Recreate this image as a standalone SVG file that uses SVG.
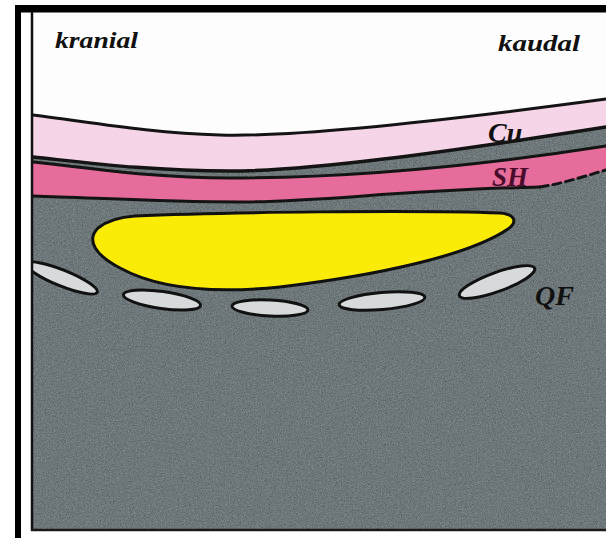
<svg xmlns="http://www.w3.org/2000/svg" width="606" height="538" viewBox="0 0 606 538">
  <style>
    .edge { fill: none; stroke: #141414; stroke-linecap: round; stroke-linejoin: round; }
    .lbl { font-weight: bold; font-style: italic; fill: #111; }
    .duct { fill: #d7dadb; stroke: #111; stroke-width: 3; }
  </style>
  <defs>
    <!-- fine print grain for the tissue area -->
    <filter id="grain" x="0" y="0" width="100%" height="100%" color-interpolation-filters="sRGB">
      <feTurbulence type="fractalNoise" baseFrequency="0.75" numOctaves="2" seed="7" result="noise"/>
      <feColorMatrix in="noise" type="matrix" values="0.33 0.33 0.33 0 0  0.33 0.33 0.33 0 0  0.33 0.33 0.33 0 0  0 0 0 0 1" result="mono"/>
      <feComposite in="mono" in2="SourceGraphic" operator="arithmetic" k1="0" k2="0.5" k3="1" k4="-0.25" result="mix"/>
      <feComposite in="mix" in2="SourceAlpha" operator="in"/>
    </filter>
    <clipPath id="panel">
      <rect x="33" y="12" width="573" height="518"/>
    </clipPath>
  </defs>

  <!-- page background -->
  <rect width="606" height="538" fill="#ffffff"/>

  <g id="section" clip-path="url(#panel)">
    <!-- white field above the skin -->
    <rect x="33" y="12" width="573" height="518" fill="#fdfdfd"/>
    <!-- deep tissue (grey) -->
    <path d="M33,157 C90,163 150,171 230,171 C310,171 440,153 606,127 L606,530 L33,530 Z" fill="#6e787a" filter="url(#grain)"/>
    <!-- Cu layer -->
    <path id="cu-layer" d="M33,115 C90,122 150,133 220,135 C290,137 420,124 606,99 L606,127 C440,153 310,171 230,171 C150,171 90,163 33,157 Z" fill="#f6d5e8"/>
    <!-- SH layer -->
    <path id="sh-layer" d="M33,162 C90,168 150,178 230,178 C310,178 440,172 606,146 L606,170 C585,176 565,183 540,187 C400,190 320,202 240,202 C160,202 100,198 33,196 Z" fill="#e66c9b"/>

    <!-- layer boundaries -->
    <path class="edge" stroke-width="3" d="M33,115 C90,122 150,133 220,135 C290,137 420,124 606,99"/>
    <path class="edge" stroke-width="3.5" d="M33,157 C90,163 150,171 230,171 C310,171 440,153 606,127"/>
    <path class="edge" stroke-width="3" d="M33,162 C90,168 150,178 230,178 C310,178 440,172 606,146"/>
    <path class="edge" stroke-width="3" d="M33,196 C100,198 160,202 240,202 C320,202 400,190 540,187"/>
    <path class="edge" stroke-width="3" stroke-dasharray="8 5" d="M540,187 C565,183 585,176 606,170"/>

    <!-- yellow mass -->
    <path id="mass" d="M135,216 C220,212 420,210 500,213 C515,214 518,222 508,229 C470,255 380,275 280,287 C220,293 160,290 120,268 C95,255 86,240 98,228 C108,220 120,217 135,216 Z" fill="#fbec07" stroke="#111" stroke-width="3"/>

    <!-- QF segments -->
    <g id="qf">
      <ellipse class="duct" cx="62" cy="278" rx="38" ry="8" transform="rotate(22 62 278)"/>
      <ellipse class="duct" cx="162" cy="300" rx="39" ry="8.5" transform="rotate(8 162 300)"/>
      <ellipse class="duct" cx="270" cy="308" rx="38" ry="8" transform="rotate(3 270 308)"/>
      <ellipse class="duct" cx="382" cy="301" rx="43" ry="8.5" transform="rotate(-5 382 301)"/>
      <ellipse class="duct" cx="497" cy="282" rx="40" ry="9.5" transform="rotate(-20 497 282)"/>
    </g>
  </g>

  <!-- labels -->
  <g id="labels" font-family="'Liberation Serif', 'Times New Roman', serif">
    <text class="lbl" x="55" y="48" font-size="23" textLength="83" lengthAdjust="spacingAndGlyphs">kranial</text>
    <text class="lbl" x="498" y="51" font-size="23" textLength="82" lengthAdjust="spacingAndGlyphs">kaudal</text>
    <text class="lbl" x="488" y="142" font-size="28">Cu</text>
    <text class="lbl" x="492" y="186" font-size="27" style="fill:#4a0c2c">SH</text>
    <text class="lbl" x="535" y="305" font-size="28">QF</text>
  </g>

  <!-- frame -->
  <g id="frame">
    <rect x="15" y="5" width="6" height="533" fill="#000"/>
    <rect x="15" y="5" width="591" height="7.5" fill="#000"/>
    <line x1="32" y1="12" x2="32" y2="531" stroke="#111" stroke-width="2.5"/>
    <line x1="31" y1="530" x2="606" y2="530" stroke="#1a1a1a" stroke-width="2.5"/>
  </g>
</svg>
